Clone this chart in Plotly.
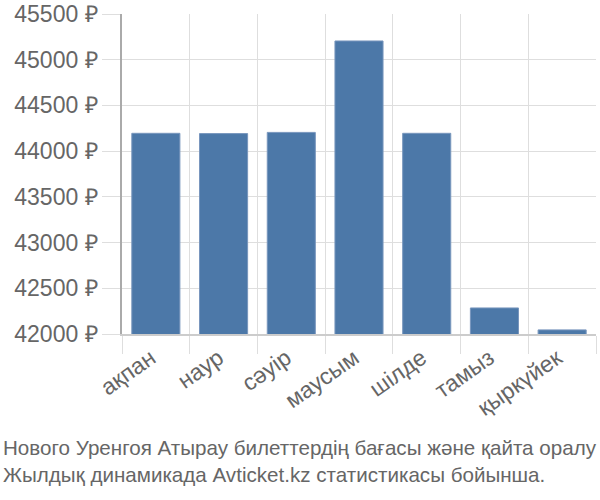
import plotly.graph_objects as go

months = ["ақпан", "наур", "сәуір", "маусым", "шілде", "тамыз", "қыркүйек"]
prices = [44195, 44192, 44205, 45205, 44195, 42285, 42045]

y_min = 42000
y_max = 45500
y_step = 500

caption = ("Нового Уренгоя Атырау билеттердің бағасы және қайта оралу<br>"
           "Жылдық динамикада Avticket.kz статистикасы бойынша.")

fig = go.Figure()
fig.add_trace(go.Bar(
    x=months,
    y=prices,
    marker=dict(color="#4c78a8", line=dict(color="#7896bd", width=1)),
    width=0.71,
))

fig.update_layout(
    width=600, height=500,
    margin=dict(l=122, r=4, t=14, b=166),
    paper_bgcolor="white", plot_bgcolor="white",
    font=dict(family="Liberation Sans, Arial, sans-serif", color="#666666"),
    showlegend=False,
    annotations=[dict(
        text=caption, xref="paper", yref="paper",
        x=0, y=0, xanchor="left", yanchor="top",
        xshift=-121, yshift=-100,
        showarrow=False, align="left",
        font=dict(size=20.6, color="#666666",
                  family="Liberation Sans, Arial, sans-serif"),
    )],
)

fig.update_xaxes(
    type="category",
    range=[-0.5, len(months) - 0.5],
    automargin=False,
    tickson="boundaries",
    showgrid=True, gridcolor="#dedede", gridwidth=1,
    ticks="outside", ticklen=18, tickcolor="#dedede", tickwidth=1,
    showline=True, linecolor="#cccccc", linewidth=1.5,
    tickangle=-35,
    ticklabelshift=-5,
    tickfont=dict(size=23, color="#666666"),
)

fig.update_yaxes(
    range=[y_min, y_max],
    automargin=False,
    dtick=y_step, tick0=y_min,
    tickformat="d", ticksuffix=" ₽",
    showgrid=True, gridcolor="#dedede", gridwidth=1,
    ticks="outside", ticklen=18, tickcolor="#dedede",
    showline=True, linecolor="#aaaaaa", linewidth=1.5,
    zeroline=False,
    tickfont=dict(size=23, color="#666666"),
)

fig.write_html(
    "out.html",
    config={"displayModeBar": False},
    post_script="document.body.style.margin='0';document.body.style.padding='0';",
)
